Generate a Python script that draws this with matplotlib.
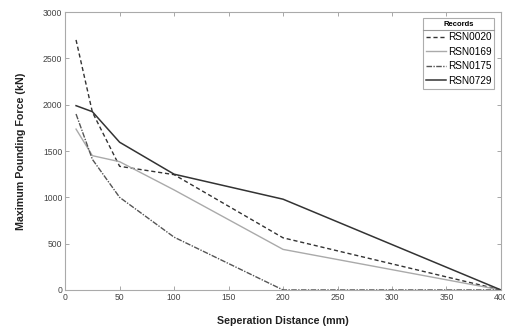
import matplotlib
matplotlib.use("Agg")
import matplotlib.pyplot as plt
from matplotlib.lines import Line2D

plt.rcParams["font.family"] = ["Liberation Sans", "DejaVu Sans"]

# Data
distance = [10, 25, 50, 100, 200, 400]
records = ["RSN0020", "RSN0169", "RSN0175", "RSN0729"]
rsn0020 = [2700, 1920, 1335, 1245, 563, 0]
rsn0169 = [1737, 1450, 1385, 1080, 438, 0]
rsn0175 = [1900, 1410, 1000, 570, 0, 0]
rsn0729 = [1990, 1925, 1595, 1250, 980, 0]

styles = [
    dict(color="#333333", linestyle=(0, (3, 2)), linewidth=1.0),
    dict(color="#aaaaaa", linestyle="-", linewidth=1.0),
    dict(color="#555555", linestyle=(0, (4, 1, 1, 1)), linewidth=1.0),
    dict(color="#333333", linestyle="-", linewidth=1.1),
]

fig = plt.figure(figsize=(5.05, 3.28), dpi=100)
ax = fig.add_axes([0.129, 0.116, 0.863, 0.847])

for name, values, st in zip(records, [rsn0020, rsn0169, rsn0175, rsn0729], styles):
    ax.plot(distance, values, label=name, **st)

ax.set_xlim(0, 400)
ax.set_ylim(0, 3000)
ax.set_xticks([0, 50, 100, 150, 200, 250, 300, 350, 400])
ax.set_yticks([0, 500, 1000, 1500, 2000, 2500, 3000])
ax.tick_params(direction="in", length=3, width=0.6, color="#999999",
               labelsize=6.2, labelcolor="#444444", top=True, right=True, pad=2)
for sp in ax.spines.values():
    sp.set_color("#aaaaaa")
    sp.set_linewidth(0.8)

ax.set_xlabel("Seperation Distance (mm)", fontsize=7.7, fontweight="bold",
              color="#222222", labelpad=10)
ax.set_ylabel("Maximum Pounding Force (kN)", fontsize=7.7, fontweight="bold",
              color="#222222", labelpad=12)

leg = ax.legend(title="Records", loc="upper right", bbox_to_anchor=(0.985, 0.979),
                fontsize=7.2, title_fontproperties={"size": 5.5, "weight": "bold"},
                frameon=True, fancybox=False, edgecolor="#999999",
                handlelength=2.0, handletextpad=0.2, borderpad=0.3,
                labelspacing=0.45, borderaxespad=0.0)
leg.get_frame().set_linewidth(0.8)

# MATLAB-style separator under the legend title
fig.canvas.draw()
inv = fig.transFigure.inverted()
fb = leg.get_frame().get_window_extent()
tb = leg.get_title().get_window_extent()
y_sep = tb.y0 - 2
(x0, ys), (x1, _) = inv.transform([(fb.x0, y_sep), (fb.x1, y_sep)])
fig.add_artist(Line2D([x0, x1], [ys, ys], color="#999999", linewidth=0.8))

fig.savefig("out.png", dpi=100, facecolor="white")
